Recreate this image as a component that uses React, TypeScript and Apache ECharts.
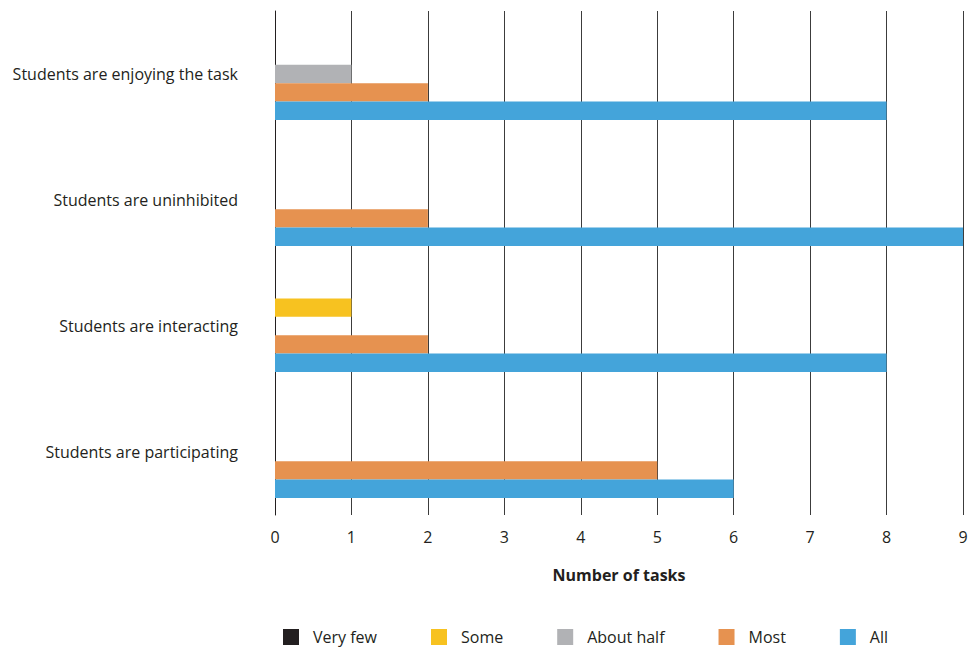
import React, { useEffect, useRef } from "react";
import * as echarts from "echarts";

// Categories listed bottom-to-top along the vertical axis
const categories = [
  "Students are participating",
  "Students are interacting",
  "Students are uninhibited",
  "Students are enjoying the task",
];

const legendOrder = ["Very few", "Some", "About half", "Most", "All"];

const veryFew = [0, 0, 0, 0];
const some = [0, 1, 0, 0];
const aboutHalf = [0, 0, 0, 1];
const most = [5, 2, 2, 2];
const all = [6, 8, 9, 8];

const xTicks = [0, 1, 2, 3, 4, 5, 6, 7, 8, 9];

const COLORS: Record<string, string> = {
  "Very few": "#231f20",
  Some: "#f7c220",
  "About half": "#b1b2b5",
  Most: "#e69250",
  All: "#44a4da",
};

const FONT = "'Open Sans', 'Noto Sans', sans-serif";
const TEXT = "#231f20";

export default function App() {
  const ref = useRef<HTMLDivElement>(null);

  useEffect(() => {
    if (!ref.current) return;
    const chart = echarts.init(ref.current, null, { renderer: "svg" });

    // Within a band the first series is drawn on top: Very few on top, All lowest
    const seriesDefs: [string, number[]][] = [
      ["Very few", veryFew],
      ["Some", some],
      ["About half", aboutHalf],
      ["Most", most],
      ["All", all],
    ];

    chart.setOption({
      animation: false,
      backgroundColor: "#ffffff",
      textStyle: { fontFamily: FONT, color: TEXT },
      grid: { left: 275, right: 9, top: 11, bottom: 133, containLabel: false },
      xAxis: {
        type: "value",
        min: xTicks[0],
        max: xTicks[xTicks.length - 1],
        interval: 1,
        name: "Number of tasks",
        nameLocation: "middle",
        nameGap: 52,
        nameTextStyle: { fontFamily: FONT, fontSize: 16, fontWeight: "bold", color: TEXT },
        axisLine: { show: false },
        axisTick: { show: false },
        axisLabel: { fontFamily: FONT, fontSize: 16, color: TEXT, margin: 14 },
        splitLine: { show: true, lineStyle: { color: "#3c3c3c", width: 1 } },
      },
      yAxis: {
        type: "category",
        data: categories,
        axisLine: { show: true, lineStyle: { color: TEXT, width: 1 } },
        axisTick: { show: false },
        axisLabel: { fontFamily: FONT, fontSize: 16, color: TEXT, margin: 37, padding: [4, 0, 0, 0] },
        splitLine: { show: false },
      },
      legend: {
        data: legendOrder,
        left: 278,
        top: 624,
        itemWidth: 16,
        itemHeight: 16,
        itemGap: 54,
        icon: "rect",
        textStyle: { fontFamily: FONT, fontSize: 16, color: TEXT, padding: [0, 0, 0, 9] },
      },
      series: seriesDefs.map(([name, values]) => ({
        name,
        type: "bar",
        data: values,
        barGap: "0%",
        barCategoryGap: "27%",
        itemStyle: { color: COLORS[name] },
        emphasis: { disabled: true },
      })),
    });

    return () => chart.dispose();
  }, []);

  return <div ref={ref} style={{ width: 972, height: 648, position: "absolute", left: 0, top: 0 }} />;
}
